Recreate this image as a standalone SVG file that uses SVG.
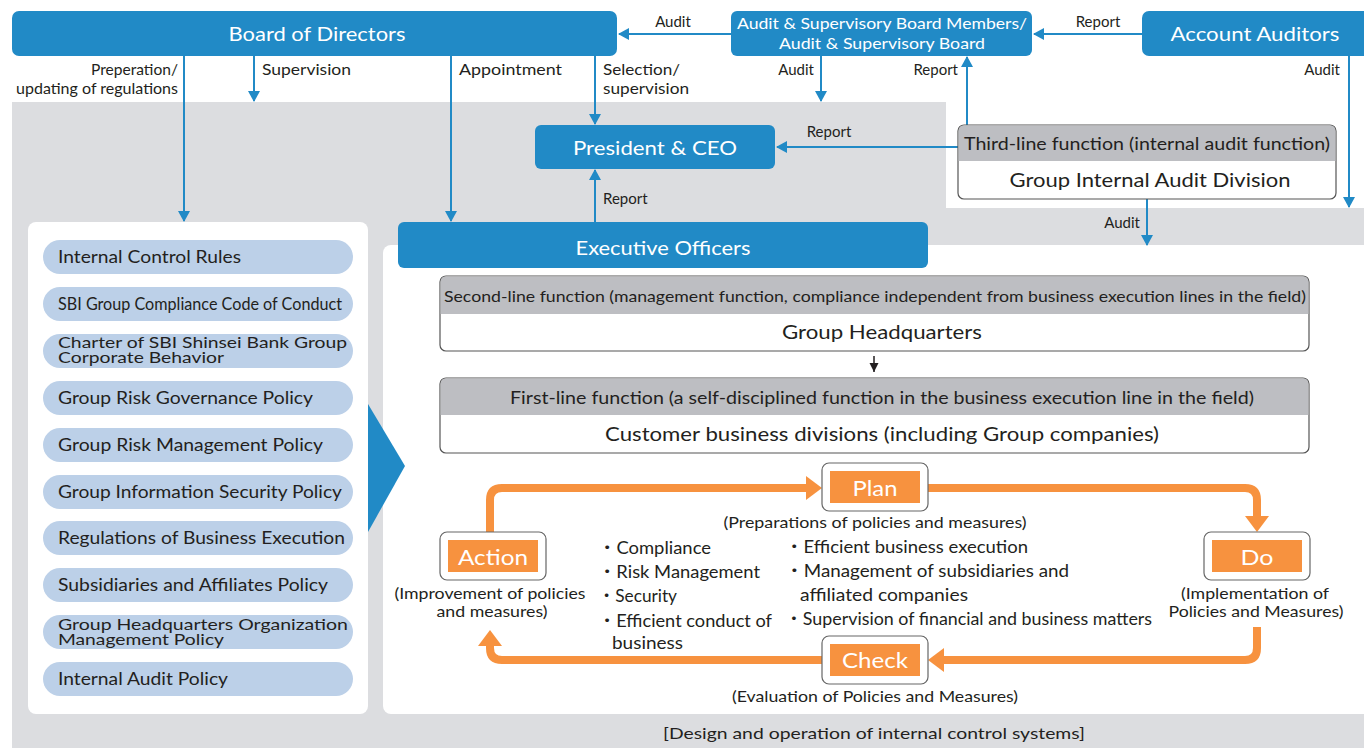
<svg xmlns="http://www.w3.org/2000/svg" width="1364" height="748" viewBox="0 0 1364 748">
<style>
.blue{fill:#218ac6}
.wt{fill:#fff;font-family:Lato,"Noto Sans",sans-serif}
.dk{fill:#231f20;font-family:Lato,"Noto Sans","Noto Sans CJK JP",sans-serif}
.lbl{font-size:15px}
.pill{fill:#bcd0e8}
.pt{font-size:17px}
.cn{stroke:#218ac6;stroke-width:2;fill:none}
.or{stroke:#f7923f;stroke-width:8;fill:none}
.box{fill:#fff;stroke:#555;stroke-width:1.2}
.band{fill:#bdbec2}
.pbox{fill:#fff;stroke:#666;stroke-width:1.2}
.pin{fill:#f7923f}
</style>
<defs>
<marker id="ab" markerUnits="userSpaceOnUse" markerWidth="12" markerHeight="12" refX="10" refY="6" orient="auto"><path d="M0,0 L11,6 L0,12 z" fill="#218ac6"/></marker>
<marker id="ak" markerUnits="userSpaceOnUse" markerWidth="10" markerHeight="10" refX="9" refY="5" orient="auto"><path d="M0,0.5 L9,5 L0,9.5 z" fill="#231f20"/></marker>
<marker id="ao" markerUnits="userSpaceOnUse" markerWidth="16" markerHeight="24" refX="0" refY="12" orient="auto"><path d="M0,0 L16,12 L0,24 z" fill="#f7923f"/></marker>
</defs>
<rect width="1364" height="748" fill="#fff"/>
<path d="M12,102 H946 V208 H1364 V748 H12 z" fill="#dcdde0"/>
<rect x="28" y="222" width="340" height="492" rx="8" fill="#fff"/>
<rect x="383" y="245" width="990" height="469" rx="8" fill="#fff"/>
<polygon points="368,404 405,466 368,532" class="blue"/>

<g id="connectors">
<path class="cn" d="M731,34 H619" marker-end="url(#ab)"/>
<path class="cn" d="M1142,34 H1034" marker-end="url(#ab)"/>
<path class="cn" d="M184,56 V221" marker-end="url(#ab)"/>
<path class="cn" d="M254,56 V101" marker-end="url(#ab)"/>
<path class="cn" d="M451,56 V221" marker-end="url(#ab)"/>
<path class="cn" d="M595,56 V124" marker-end="url(#ab)"/>
<path class="cn" d="M821,56 V101" marker-end="url(#ab)"/>
<path class="cn" d="M967,125 V57" marker-end="url(#ab)"/>
<path class="cn" d="M1349,56 V207" marker-end="url(#ab)"/>
<path class="cn" d="M958,147 H777" marker-end="url(#ab)"/>
<path class="cn" d="M595,222 V170" marker-end="url(#ab)"/>
<path class="cn" d="M1147,199 V245" marker-end="url(#ab)"/>
<path d="M874,356 V372" stroke="#231f20" stroke-width="1.5" fill="none" marker-end="url(#ak)"/>
<path class="or" d="M490,532 V500 Q490,488 502,488 H806" marker-end="url(#ao)"/>
<path class="or" d="M928,488 H1245 Q1257,488 1257,500 V516" marker-end="url(#ao)"/>
<path class="or" d="M1257,627 V648 Q1257,660 1245,660 H944" marker-end="url(#ao)"/>
<path class="or" d="M822,660 H502 Q490,660 490,648 V646" marker-end="url(#ao)"/>
</g>

<g id="labels">
<text x="673" y="27" text-anchor="middle" class="dk lbl">Audit</text>
<text x="1098" y="27" text-anchor="middle" class="dk lbl">Report</text>
<text x="178" y="75" text-anchor="end" class="dk lbl" textLength="87" lengthAdjust="spacingAndGlyphs">Preperation/</text>
<text x="178" y="94" text-anchor="end" class="dk lbl" textLength="162" lengthAdjust="spacingAndGlyphs">updating of regulations</text>
<text x="262" y="75" class="dk lbl" textLength="89" lengthAdjust="spacingAndGlyphs">Supervision</text>
<text x="459" y="75" class="dk lbl" textLength="103" lengthAdjust="spacingAndGlyphs">Appointment</text>
<text x="603" y="75" class="dk lbl" textLength="77" lengthAdjust="spacingAndGlyphs">Selection/</text>
<text x="603" y="94" class="dk lbl" textLength="86" lengthAdjust="spacingAndGlyphs">supervision</text>
<text x="814" y="75" text-anchor="end" class="dk lbl">Audit</text>
<text x="958" y="75" text-anchor="end" class="dk lbl">Report</text>
<text x="1340" y="75" text-anchor="end" class="dk lbl">Audit</text>
<text x="829" y="137" text-anchor="middle" class="dk lbl">Report</text>
<text x="603" y="204" class="dk lbl">Report</text>
<text x="1140" y="228" text-anchor="end" class="dk lbl">Audit</text>
</g>

<g id="board">
<rect x="12" y="11" width="605" height="45" rx="7" class="blue"/>
<text x="317" y="41" text-anchor="middle" class="wt" font-size="20" textLength="177" lengthAdjust="spacingAndGlyphs">Board of Directors</text>
</g>
<g id="asb">
<rect x="731" y="11" width="301" height="45" rx="6" class="blue"/>
<text x="882" y="29" text-anchor="middle" class="wt" font-size="16" textLength="290" lengthAdjust="spacingAndGlyphs">Audit &amp; Supervisory Board Members/</text>
<text x="882" y="49" text-anchor="middle" class="wt" font-size="16" textLength="206" lengthAdjust="spacingAndGlyphs">Audit &amp; Supervisory Board</text>
</g>
<g id="auditors">
<rect x="1142" y="11" width="230" height="45" rx="7" class="blue"/>
<text x="1255" y="41" text-anchor="middle" class="wt" font-size="20" textLength="169" lengthAdjust="spacingAndGlyphs">Account Auditors</text>
</g>
<g id="ceo">
<rect x="535" y="125" width="240" height="44" rx="6" class="blue"/>
<text x="655" y="155" text-anchor="middle" class="wt" font-size="20" textLength="164" lengthAdjust="spacingAndGlyphs">President &amp; CEO</text>
</g>
<g id="third">
<rect x="958" y="125" width="378" height="74" rx="6" class="box"/>
<path d="M958.6,161 V131 Q958.6,125.6 964,125.6 H1330 Q1335.4,125.6 1335.4,131 V161 z" class="band"/>
<text x="1147" y="150" text-anchor="middle" class="dk" font-size="17" textLength="366" lengthAdjust="spacingAndGlyphs">Third-line function (internal audit function)</text>
<text x="1150" y="187" text-anchor="middle" class="dk" font-size="19" textLength="281" lengthAdjust="spacingAndGlyphs">Group Internal Audit Division</text>
</g>
<g id="exec">
<rect x="398" y="222" width="530" height="46" rx="6" class="blue"/>
<text x="663" y="255" text-anchor="middle" class="wt" font-size="20" textLength="175" lengthAdjust="spacingAndGlyphs">Executive Officers</text>
</g>

<g id="rules">
<rect x="43" y="240" width="310" height="34" rx="17" class="pill"/>
<text x="58" y="263" class="dk pt" textLength="183" lengthAdjust="spacingAndGlyphs">Internal Control Rules</text>
<rect x="43" y="287" width="310" height="34" rx="17" class="pill"/>
<text x="58" y="310" class="dk pt" textLength="284" lengthAdjust="spacingAndGlyphs">SBI Group Compliance Code of Conduct</text>
<rect x="43" y="334" width="310" height="34" rx="17" class="pill"/>
<text x="58" y="348" class="dk" font-size="15" textLength="289" lengthAdjust="spacingAndGlyphs">Charter of SBI Shinsei Bank Group</text>
<text x="58" y="363" class="dk" font-size="15" textLength="166" lengthAdjust="spacingAndGlyphs">Corporate Behavior</text>
<rect x="43" y="381" width="310" height="34" rx="17" class="pill"/>
<text x="58" y="404" class="dk pt" textLength="255" lengthAdjust="spacingAndGlyphs">Group Risk Governance Policy</text>
<rect x="43" y="428" width="310" height="34" rx="17" class="pill"/>
<text x="58" y="451" class="dk pt" textLength="265" lengthAdjust="spacingAndGlyphs">Group Risk Management Policy</text>
<rect x="43" y="475" width="310" height="34" rx="17" class="pill"/>
<text x="58" y="498" class="dk pt" textLength="284" lengthAdjust="spacingAndGlyphs">Group Information Security Policy</text>
<rect x="43" y="521" width="310" height="34" rx="17" class="pill"/>
<text x="58" y="544" class="dk pt" textLength="287" lengthAdjust="spacingAndGlyphs">Regulations of Business Execution</text>
<rect x="43" y="568" width="310" height="34" rx="17" class="pill"/>
<text x="58" y="591" class="dk pt" textLength="270" lengthAdjust="spacingAndGlyphs">Subsidiaries and Affiliates Policy</text>
<rect x="43" y="615" width="310" height="34" rx="17" class="pill"/>
<text x="58" y="630" class="dk" font-size="15" textLength="290" lengthAdjust="spacingAndGlyphs">Group Headquarters Organization</text>
<text x="58" y="645" class="dk" font-size="15" textLength="166" lengthAdjust="spacingAndGlyphs">Management Policy</text>
<rect x="43" y="662" width="310" height="34" rx="17" class="pill"/>
<text x="58" y="685" class="dk pt" textLength="170" lengthAdjust="spacingAndGlyphs">Internal Audit Policy</text>
</g>

<g id="second">
<rect x="440" y="276" width="869" height="75" rx="6" class="box"/>
<path d="M440.6,314 V282 Q440.6,276.6 446,276.6 H1303 Q1308.4,276.6 1308.4,282 V314 z" class="band"/>
<text x="875" y="302" text-anchor="middle" class="dk" font-size="16" textLength="862" lengthAdjust="spacingAndGlyphs">Second-line function (management function, compliance independent from business execution lines in the field)</text>
<text x="882" y="339" text-anchor="middle" class="dk" font-size="19" textLength="200" lengthAdjust="spacingAndGlyphs">Group Headquarters</text>
</g>
<g id="first">
<rect x="440" y="378" width="869" height="75" rx="6" class="box"/>
<path d="M440.6,415 V384 Q440.6,378.6 446,378.6 H1303 Q1308.4,378.6 1308.4,384 V415 z" class="band"/>
<text x="882" y="404" text-anchor="middle" class="dk" font-size="17" textLength="744" lengthAdjust="spacingAndGlyphs">First-line function (a self-disciplined function in the business execution line in the field)</text>
<text x="882" y="441" text-anchor="middle" class="dk" font-size="19" textLength="554" lengthAdjust="spacingAndGlyphs">Customer business divisions (including Group companies)</text>
</g>

<g id="plan">
<rect x="822" y="463" width="106" height="48" rx="7" class="pbox"/>
<rect x="830" y="471" width="90" height="32" class="pin"/>
<text x="875" y="496" text-anchor="middle" class="wt" font-size="22" textLength="45" lengthAdjust="spacingAndGlyphs">Plan</text>
<text x="875" y="528" text-anchor="middle" class="dk lbl" textLength="303" lengthAdjust="spacingAndGlyphs">(Preparations of policies and measures)</text>
</g>
<g id="do">
<rect x="1204" y="532" width="106" height="48" rx="7" class="pbox"/>
<rect x="1212" y="540" width="90" height="32" class="pin"/>
<text x="1257" y="565" text-anchor="middle" class="wt" font-size="22" textLength="33" lengthAdjust="spacingAndGlyphs">Do</text>
<text x="1255" y="599" text-anchor="middle" class="dk lbl" textLength="148" lengthAdjust="spacingAndGlyphs">(Implementation of</text>
<text x="1256" y="617" text-anchor="middle" class="dk lbl" textLength="175" lengthAdjust="spacingAndGlyphs">Policies and Measures)</text>
</g>
<g id="check">
<rect x="822" y="636" width="106" height="48" rx="7" class="pbox"/>
<rect x="830" y="644" width="90" height="32" class="pin"/>
<text x="875" y="668" text-anchor="middle" class="wt" font-size="22" textLength="66" lengthAdjust="spacingAndGlyphs">Check</text>
<text x="875" y="702" text-anchor="middle" class="dk lbl" textLength="286" lengthAdjust="spacingAndGlyphs">(Evaluation of Policies and Measures)</text>
</g>
<g id="action">
<rect x="440" y="532" width="106" height="48" rx="7" class="pbox"/>
<rect x="448" y="540" width="90" height="32" class="pin"/>
<text x="493" y="565" text-anchor="middle" class="wt" font-size="22" textLength="70" lengthAdjust="spacingAndGlyphs">Action</text>
<text x="490" y="599" text-anchor="middle" class="dk lbl" textLength="191" lengthAdjust="spacingAndGlyphs">(Improvement of policies</text>
<text x="492" y="617" text-anchor="middle" class="dk lbl" textLength="111" lengthAdjust="spacingAndGlyphs">and measures)</text>
</g>

<g id="bullets" class="dk" font-size="17">
<text x="598" y="554" textLength="113" lengthAdjust="spacingAndGlyphs">・Compliance</text>
<text x="598" y="578" textLength="162" lengthAdjust="spacingAndGlyphs">・Risk Management</text>
<text x="598" y="602" textLength="79" lengthAdjust="spacingAndGlyphs">・Security</text>
<text x="598" y="627" textLength="174" lengthAdjust="spacingAndGlyphs">・Efficient conduct of</text>
<text x="612" y="649" textLength="71" lengthAdjust="spacingAndGlyphs">business</text>
<text x="785" y="553" textLength="243" lengthAdjust="spacingAndGlyphs">・Efficient business execution</text>
<text x="785" y="577" textLength="284" lengthAdjust="spacingAndGlyphs">・Management of subsidiaries and</text>
<text x="800" y="601" textLength="168" lengthAdjust="spacingAndGlyphs">affiliated companies</text>
<text x="785" y="625" textLength="367" lengthAdjust="spacingAndGlyphs">・Supervision of financial and business matters</text>
</g>

<text x="874" y="739" text-anchor="middle" class="dk" font-size="16" textLength="422" lengthAdjust="spacingAndGlyphs">[Design and operation of internal control systems]</text>
</svg>
